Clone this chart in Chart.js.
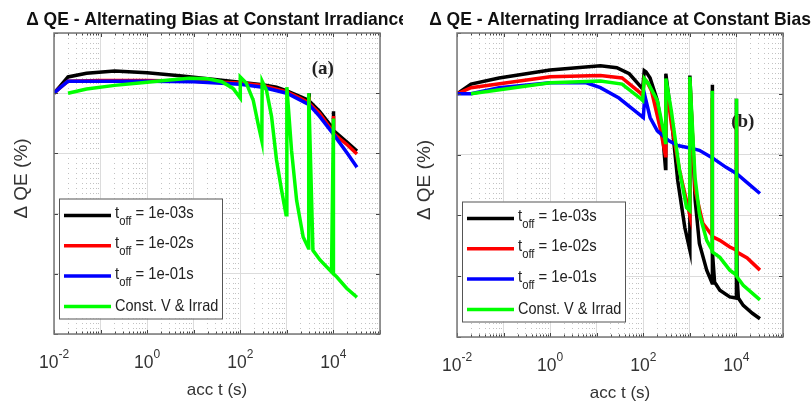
<!DOCTYPE html>
<html>
<head>
<meta charset="utf-8">
<script src="https://cdn.jsdelivr.net/npm/chart.js@4.4.0/dist/chart.umd.min.js"></script>
<style>
  body { margin: 0; background: #fff; width: 812px; height: 402px; overflow: hidden; position: relative; }
  #left { position: absolute; left: 0; top: 0; width: 403px; height: 402px; }
  #right { position: absolute; left: 403px; top: 0; width: 409px; height: 402px; background: #fff; }
</style>
</head>
<body>
<div id="left"><canvas id="chartA" width="403" height="402"></canvas></div>
<div id="right"><canvas id="chartB" width="409" height="402"></canvas></div>
<script>
// legend labels ("_off" is drawn as a subscript)
const seriesLabels = ['t_off = 1e-03s', 't_off = 1e-02s', 't_off = 1e-01s', 'Const. V & Irrad'];
const seriesColors = ['#000000', '#ff0000', '#0000ff', '#00ff00'];

// x tick labels (powers of ten)
const xTickVals = [0.01, 1, 100, 10000];

// ---- panel (a): alternating bias at constant irradiance ----
const aBlackT = [0.01, 0.013, 0.02, 0.05, 0.2, 1, 5, 20, 100, 300, 600, 1000, 2000, 3000, 3000, 3050, 5000, 7500, 10000, 10000, 10100, 20000, 32000];
const aBlackQ = [0, 0.1, 0.27, 0.33, 0.37, 0.34, 0.29, 0.24, 0.18, 0.14, 0.1, 0.04, -0.06, -0.12, 0.0, -0.13, -0.3, -0.47, -0.6, -0.3, -0.62, -0.82, -0.96];

const aRedT = [0.01, 0.013, 0.02, 0.1, 1, 10, 100, 300, 1000, 2000, 3000, 3000, 3050, 5000, 10000, 10000, 10100, 20000, 32000];
const aRedQ = [0, 0.08, 0.2, 0.21, 0.21, 0.2, 0.17, 0.13, 0.02, -0.09, -0.16, -0.06, -0.17, -0.33, -0.65, -0.38, -0.67, -0.86, -1.01];

const aBlueT = [0.01, 0.013, 0.02, 0.1, 1, 10, 100, 300, 1000, 2000, 3000, 5000, 10000, 20000, 32000];
const aBlueQ = [0, 0.08, 0.2, 0.2, 0.2, 0.19, 0.15, 0.1, 0.0, -0.12, -0.19, -0.38, -0.68, -1.0, -1.23];

const aGreenT = [0.02, 0.05, 0.2, 1, 3, 8, 20, 40, 70, 100, 100, 134, 190, 240, 290, 295, 365, 470, 600, 770, 960, 1000, 1260, 1620, 2240, 2900, 2950, 3630, 5150, 9100, 10000, 10000, 11700, 19200, 32000];
const aGreenQ = [0, 0.07, 0.13, 0.18, 0.22, 0.25, 0.24, 0.19, 0.08, -0.08, 0.27, 0.17, -0.12, -0.5, -0.79, 0.2, 0.05, -0.39, -1.11, -1.61, -2.02, 0.1, -0.95, -1.78, -2.39, -2.57, 0.0, -2.61, -2.77, -2.97, -0.42, -3.0, -3.05, -3.24, -3.39];

// ---- panel (b): alternating irradiance at constant bias ----
const bBlackT = [0.01, 0.02, 0.08, 1, 12, 27, 50, 85, 97, 105, 115, 140, 200, 260, 300, 305, 400, 550, 780, 1000, 1000, 1300, 1600, 2300, 3000, 3000, 3100, 3400, 4400, 7200, 10000, 10000, 10300, 11000, 14000, 22000, 32000];
const bBlackQ = [0, 0.16, 0.26, 0.39, 0.46, 0.43, 0.33, 0.13, 0.08, 0.38, 0.36, 0.26, -0.11, -0.66, -1.23, 0.33, -0.39, -1.43, -2.2, -2.57, 0.3, -1.75, -2.46, -2.9, -3.11, 0.15, -2.6, -3.1, -3.23, -3.34, -3.36, -0.08, -3.0, -3.36, -3.48, -3.61, -3.7];

const bRedT = [0.01, 0.02, 1, 12, 35, 85, 97, 105, 120, 150, 230, 300, 305, 400, 600, 1000, 1000, 1300, 1900, 3000, 3000, 3050, 4400, 7200, 10000, 10000, 10100, 17000, 32000];
const bRedQ = [0, 0.1, 0.28, 0.3, 0.26, 0.02, -0.03, 0.25, 0.2, 0.05, -0.56, -1.02, 0.2, -0.49, -1.26, -2.0, 0.21, -1.59, -2.13, -2.33, -0.07, -2.35, -2.41, -2.52, -2.57, -0.36, -2.6, -2.7, -2.9];

const bBlueT = [0.01, 0.02, 0.08, 1, 6, 12, 30, 55, 100, 108, 140, 200, 350, 550, 1000, 1600, 3000, 6000, 10000, 17000, 32000];
const bBlueQ = [0, 0, 0.1, 0.18, 0.18, 0.1, -0.07, -0.23, -0.39, -0.03, -0.39, -0.61, -0.77, -0.85, -0.89, -0.93, -1.05, -1.21, -1.31, -1.46, -1.64];

const bGreenT = [0.02, 1, 12, 35, 85, 97, 105, 130, 200, 280, 300, 305, 400, 600, 850, 1000, 1000, 1290, 1600, 2300, 3000, 3000, 3050, 4400, 7200, 10000, 10000, 10100, 14000, 32000];
const bGreenQ = [0, 0.18, 0.21, 0.16, -0.07, -0.11, 0.25, 0.16, -0.11, -0.66, -0.8, 0.25, -0.28, -1.26, -1.87, -1.92, 0.28, -1.37, -1.97, -2.41, -2.57, 0.05, -2.6, -2.69, -2.9, -2.98, -0.08, -3.0, -3.15, -3.39];

const SANS = '"Liberation Sans", Arial, sans-serif';
const SERIF = '"Liberation Serif", "Times New Roman", serif';

// log grid positions: 1..9 x each decade
const xGridTicks = [];
for (let e = -2; e <= 4; e++) {
  for (let k = 1; k <= 9; k++) xGridTicks.push({ value: k * Math.pow(10, e), major: k === 1 });
}
xGridTicks.push({ value: 1e5, major: true });

function pts(ts, qs) {
  return ts.map((t, i) => ({ x: t, y: qs[i] }));
}

function squeezed(ctx, str, x, y, sx, align) {
  ctx.save();
  ctx.translate(x, y);
  ctx.scale(sx, 1);
  ctx.textAlign = align;
  ctx.fillText(str, 0, 0);
  ctx.restore();
}

// MATLAB-like frame, labels, legend
const matlabAxes = {
  id: 'matlabAxes',
  beforeDatasetsDraw(chart, args, opts) {
    const ctx = chart.ctx;
    const xs = chart.scales.x, ys = chart.scales.y;
    ctx.save();
    ctx.fillStyle = '#222';
    ctx.font = 'bold 19px ' + SERIF;
    ctx.textBaseline = 'middle';
    ctx.textAlign = 'center';
    ctx.fillText(opts.tag, xs.getPixelForValue(opts.tagT), ys.getPixelForValue(opts.tagQ));
    ctx.restore();
  },
  afterDraw(chart, args, opts) {
    const ctx = chart.ctx;
    const a = chart.chartArea;
    const xs = chart.scales.x, ys = chart.scales.y;
    ctx.save();

    // tick marks, inward on all four sides
    ctx.strokeStyle = '#444';
    ctx.lineWidth = 1;
    ctx.beginPath();
    xs.ticks.forEach(t => {
      const px = Math.round(xs.getPixelForValue(t.value)) + 0.5;
      const len = t.major ? 4 : 2.5;
      ctx.moveTo(px, a.bottom); ctx.lineTo(px, a.bottom - len);
      ctx.moveTo(px, a.top); ctx.lineTo(px, a.top + len);
    });
    ys.ticks.forEach(t => {
      const py = Math.round(ys.getPixelForValue(t.value)) + 0.5;
      ctx.moveTo(a.left, py); ctx.lineTo(a.left + 4, py);
      ctx.moveTo(a.right, py); ctx.lineTo(a.right - 4, py);
    });
    ctx.stroke();

    // axes box
    ctx.strokeStyle = '#777';
    ctx.lineWidth = 1.5;
    ctx.strokeRect(a.left, a.top, a.right - a.left, a.bottom - a.top);

    // x tick labels 10^n
    ctx.fillStyle = '#333';
    ctx.textBaseline = 'alphabetic';
    xTickVals.forEach(v => {
      const px = xs.getPixelForValue(v);
      const ex = String(Math.round(Math.log10(v)));
      ctx.font = '17.5px ' + SANS;
      const wb = ctx.measureText('10').width;
      ctx.font = '12px ' + SANS;
      const we = ctx.measureText(ex).width;
      const x0 = px - (wb + we) / 2;
      ctx.font = '17.5px ' + SANS;
      ctx.textAlign = 'left';
      ctx.fillText('10', x0, a.bottom + 33.5);
      ctx.font = '12px ' + SANS;
      ctx.fillText(ex, x0 + wb, a.bottom + 23.5);
    });

    // axis titles
    ctx.font = '17px ' + SANS;
    ctx.fillStyle = '#333';
    squeezed(ctx, 'acc t (s)', (a.left + a.right) / 2, a.bottom + 60.5, 1, 'center');
    ctx.save();
    ctx.font = '19px ' + SANS;
    ctx.translate(a.left - 27.5, (a.top + a.bottom) / 2 - 5);
    ctx.rotate(-Math.PI / 2);
    ctx.textAlign = 'center';
    ctx.fillText('\u0394 QE (%)', 0, 0);
    ctx.restore();

    // title
    ctx.font = 'bold 18.5px ' + SANS;
    ctx.fillStyle = '#111';
    squeezed(ctx, opts.title, (a.left + a.right) / 2, 25, 0.945, 'center');

    // legend box
    const bw = 163, bh = 120;
    const bx = a.left + 5, by = a.bottom - 15.5 - bh;
    ctx.fillStyle = '#fff';
    ctx.fillRect(bx, by, bw, bh);
    ctx.strokeStyle = '#555';
    ctx.lineWidth = 1;
    ctx.strokeRect(bx + 0.5, by + 0.5, bw, bh);
    chart.data.datasets.forEach((ds, i) => {
      const ry = by + 17 + i * 30.3;
      ctx.strokeStyle = ds.borderColor;
      ctx.lineWidth = 3.5;
      ctx.beginPath();
      ctx.moveTo(bx + 5, ry);
      ctx.lineTo(bx + 52, ry);
      ctx.stroke();
      ctx.fillStyle = '#222';
      ctx.textBaseline = 'middle';
      let tx = bx + 56;
      const m = ds.label.match(/^(.*?)_(\w+)(.*)$/);
      if (m) {
        ctx.font = '16.5px ' + SANS;
        squeezed(ctx, m[1], tx, ry - 2, 0.9, 'left');
        tx += ctx.measureText(m[1]).width * 0.9;
        ctx.font = '12.5px ' + SANS;
        squeezed(ctx, m[2], tx, ry + 6, 0.9, 'left');
        tx += ctx.measureText(m[2]).width * 0.9;
        ctx.font = '16.5px ' + SANS;
        squeezed(ctx, m[3], tx, ry - 2, 0.9, 'left');
      } else {
        ctx.font = '16.5px ' + SANS;
        squeezed(ctx, ds.label, tx, ry, 0.88, 'left');
      }
    });
    ctx.restore();
  }
};

function makeChart(id, series, panel, pad) {
  const datasets = series.map((s, i) => ({
    label: seriesLabels[i],
    data: pts(s[0], s[1]),
    borderColor: seriesColors[i],
    borderWidth: 3.5,
    pointRadius: 0,
    tension: 0,
    fill: false,
    order: 4 - i
  }));
  return new Chart(document.getElementById(id), {
    type: 'line',
    data: { datasets: datasets },
    options: {
      responsive: false,
      animation: false,
      devicePixelRatio: 1,
      layout: { padding: pad },
      plugins: {
        legend: { display: false },
        title: { display: false },
        tooltip: { enabled: false },
        matlabAxes: panel
      },
      scales: {
        x: {
          type: 'logarithmic',
          min: 0.01,
          max: 1e5,
          afterBuildTicks: scale => { scale.ticks = xGridTicks.map(t => ({ value: t.value, major: t.major })); },
          ticks: { display: false },
          grid: {
            drawTicks: false,
            color: c => (c.tick && c.tick.major) ? '#dcdcdc' : '#c2c2c2',
            lineWidth: 1
          },
          border: { display: false, dash: c => (c.tick && c.tick.major) ? [] : [1, 4] }
        },
        y: {
          type: 'linear',
          min: -4,
          max: 1,
          ticks: { display: false, stepSize: 1 },
          grid: { drawTicks: false, color: '#dcdcdc', lineWidth: 1 },
          border: { display: false }
        }
      }
    },
    plugins: [matlabAxes]
  });
}

makeChart('chartA',
  [[aBlackT, aBlackQ], [aRedT, aRedQ], [aBlueT, aBlueQ], [aGreenT, aGreenQ]],
  { title: '\u0394 QE - Alternating Bias at Constant Irradiance', tag: '(a)', tagT: 5900, tagQ: 0.4 },
  { left: 54, right: 23, top: 33, bottom: 68 });

makeChart('chartB',
  [[bBlackT, bBlackQ], [bRedT, bRedQ], [bBlueT, bBlueQ], [bGreenT, bGreenQ]],
  { title: '\u0394 QE - Alternating Irradiance at Constant Bias', tag: '(b)', tagT: 13700, tagQ: -0.47 },
  { left: 54, right: 29, top: 33, bottom: 65 });
</script>
</body>
</html>
